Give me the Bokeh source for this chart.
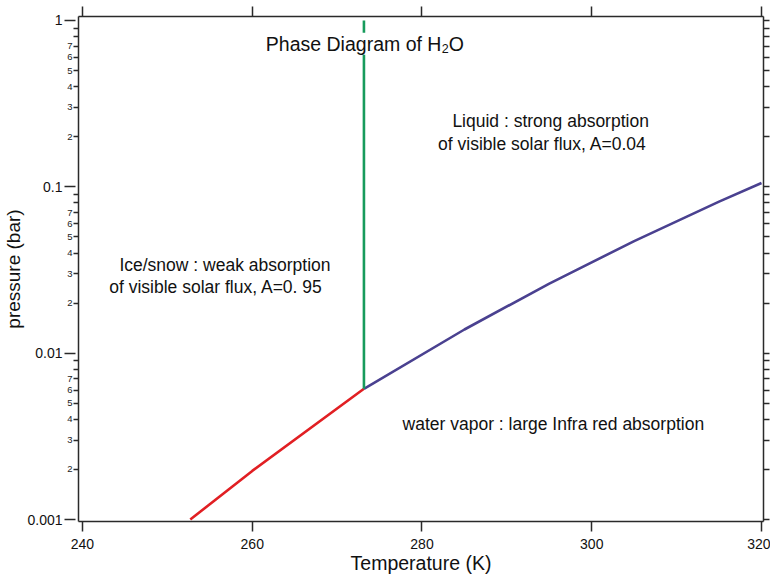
from bokeh.plotting import figure
from bokeh.models import (Range1d, LinearAxis, LogAxis, FixedTicker, Label,
                          CustomJSTickFormatter)
from bokeh.embed import file_html
from bokeh.resources import INLINE

# ---------------- data ----------------
ice_T = [252.7, 260.0, 273.16]            # sublimation curve (K)
ice_P = [0.00100, 0.00196, 0.00611]       # bar
liq_T = [273.16, 285.0, 295.0, 305.0, 315.0, 320.0]   # vaporisation curve (K)
liq_P = [0.00611, 0.01388, 0.02621, 0.04718, 0.08150, 0.1055]
melt_T = [273.16, 273.16]                 # melting line
melt_P = [0.00611, 1.0]

x_ticks = [240, 260, 280, 300, 320]
y_major = [0.001, 0.01, 0.1, 1.0]
y_major_labels = ["0.001", "0.01", "0.1", "1"]
decades = [0.001, 0.01, 0.1]
minor_mult = [2, 3, 4, 5, 6, 7, 8, 9]
labeled_mult = [2, 3, 4, 5, 6, 7]

y_minor = [m * d for d in decades for m in minor_mult]
minor_lab_y = [m * d for d in decades for m in labeled_mult]
minor_lab_txt = [str(m) for d in decades for m in labeled_mult]

# ---------------- layout ----------------
XLO, XHI = 239.53, 320.235
YLO, YHI = 0.000973, 1.0569
FONT = "Liberation Sans"
AX = "#2a2a2a"

p = figure(width=770, height=579,
           x_range=Range1d(XLO, XHI), y_range=Range1d(YLO, YHI),
           y_axis_type="log", x_axis_location=None, y_axis_location=None,
           output_backend="svg", toolbar_location=None,
           min_border_left=76, min_border_right=7, min_border_top=16, min_border_bottom=58)
p.outline_line_color = None
p.xgrid.visible = False
p.ygrid.visible = False
p.background_fill_color = "white"
p.border_fill_color = "white"

LOOKUP = """
for (let i = 0; i < vals.length; i++) {
  if (Math.abs(vals[i] - tick) <= 1e-9 * Math.abs(tick)) return txt[i];
}
return "";
"""
blank = CustomJSTickFormatter(code="return ''")

# inner left axis: axis line + minor ticks labelled 2..7
inner = LogAxis(ticker=FixedTicker(ticks=y_minor, minor_ticks=[]),
                formatter=CustomJSTickFormatter(args=dict(vals=minor_lab_y, txt=minor_lab_txt),
                                                code=LOOKUP))
inner.major_tick_out = 5
inner.major_tick_in = 0
inner.minor_tick_out = 0
inner.major_label_standoff = 1
inner.major_label_text_font = FONT
inner.major_label_text_font_size = "9.5px"
inner.major_label_text_color = "#222222"

# outer left axis: decade ticks (drawn inward up to the frame) + decade labels + title
outer = LogAxis(ticker=FixedTicker(ticks=y_major, minor_ticks=[]),
                formatter=CustomJSTickFormatter(args=dict(vals=y_major, txt=y_major_labels),
                                                code=LOOKUP),
                axis_label="pressure (bar)")
outer.axis_line_color = None
outer.major_tick_out = 0
outer.major_tick_in = 11
outer.minor_tick_out = 0
outer.major_label_standoff = 2
outer.major_label_text_font = FONT
outer.major_label_text_font_size = "14px"
outer.major_label_text_color = "#111111"
outer.axis_label_text_font = FONT
outer.axis_label_text_font_size = "19px"
outer.axis_label_text_font_style = "normal"
outer.axis_label_text_color = "#111111"
outer.axis_label_standoff = 0

right = LogAxis(ticker=FixedTicker(ticks=y_major, minor_ticks=y_minor), formatter=blank)
right.major_tick_out = 6
right.major_tick_in = 0
right.minor_tick_out = 6
right.minor_tick_in = 0
right.major_label_standoff = 0
right.major_label_text_font_size = "1px"

xticker = FixedTicker(ticks=x_ticks, minor_ticks=[])

bottom = LinearAxis(ticker=xticker, axis_label="Temperature (K)")
bottom.major_tick_out = 10
bottom.major_tick_in = 0
bottom.minor_tick_out = 0
bottom.major_label_standoff = 7
bottom.major_label_text_font = FONT
bottom.major_label_text_font_size = "14px"
bottom.major_label_text_color = "#111111"
bottom.axis_label_text_font = FONT
bottom.axis_label_text_font_size = "19.5px"
bottom.axis_label_text_font_style = "normal"
bottom.axis_label_text_color = "#111111"
bottom.axis_label_standoff = 0

top = LinearAxis(ticker=xticker, formatter=blank)
top.major_tick_out = 10
top.major_tick_in = 0
top.minor_tick_out = 0
top.major_label_standoff = 0
top.major_label_text_font_size = "1px"

for ax in (inner, outer, right, bottom, top):
    if ax is not outer:
        ax.axis_line_color = AX
    ax.axis_line_width = 1.5
    ax.major_tick_line_color = AX
    ax.major_tick_line_width = 1.5
    ax.minor_tick_line_color = AX
    ax.minor_tick_line_width = 1.5

p.add_layout(inner, "left")
p.add_layout(outer, "left")
p.add_layout(right, "right")
p.add_layout(bottom, "below")
p.add_layout(top, "above")

# curves
p.line(ice_T, ice_P, line_color="#e11f23", line_width=2.6)
p.line(liq_T, liq_P, line_color="#4a4190", line_width=2.6)
p.line(melt_T, melt_P, line_color="#179b5c", line_width=2.6)

# annotations
def lab(x, y, text, size="17.5px", x_offset=0, y_offset=0, bg=None):
    kw = dict(x=x, y=y, text=text, x_offset=x_offset, y_offset=y_offset,
              text_font=FONT, text_font_size=size, text_color="#111111",
              text_align="left", text_baseline="alphabetic")
    if bg is not None:
        kw["background_fill_color"] = bg
    p.add_layout(Label(**kw))

lab(261.6, 0.7238, "Phase Diagram of H", size="19.5px", bg="white")
lab(261.6, 0.7238, "2", size="12.5px", x_offset=176, y_offset=-5)
lab(261.6, 0.7238, "O", size="19.5px", x_offset=183)

lab(283.58, 0.2477, "Liquid : strong absorption")
lab(281.90, 0.1800, "of visible solar flux, A=0.04")
lab(244.35, 0.0339, "Ice/snow : weak absorption")
lab(243.15, 0.0250, "of visible solar flux, A=0. 95")
lab(277.71, 0.003735, "water vapor : large Infra red absorption")

open("out.html", "w").write(file_html(p, INLINE))
